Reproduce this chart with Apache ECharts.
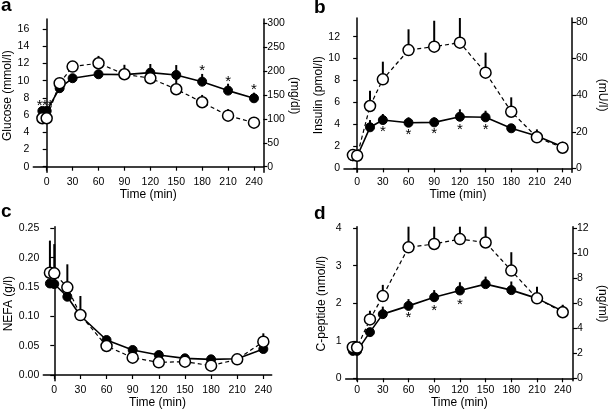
<!DOCTYPE html>
<html>
<head>
<meta charset="utf-8">
<script src="https://cdn.jsdelivr.net/npm/echarts@6/dist/echarts.min.js"></script>
<style>
  html, body { margin: 0; padding: 0; background: #fff; }
  #main { width: 609px; height: 411px; }
</style>
</head>
<body>
<div id="main"></div>
<script>
// sampling times (min)
var times = [-5, 0, 15, 30, 60, 90, 120, 150, 180, 210, 240];
var timeTicks = [0, 30, 60, 90, 120, 150, 180, 210, 240];

// a: glucose (mmol/l)
var gluFilled = [6.48, 6.48, 9.12, 10.28, 10.74, 10.7, 10.93, 10.66, 9.88, 8.84, 7.95];
var gluFilledSd = [0, 0, 0.3, 0.4, 0.5, 0.5, 1.0, 1.15, 0.9, 0.8, 0.65];
var gluOpen = [5.63, 5.63, 9.7, 11.63, 12.02, 10.74, 10.28, 9.0, 7.49, 5.93, 5.12];
var gluOpenSd = [0, 0, 0.3, 0.45, 0.85, 1.1, 0.6, 1.2, 0.85, 0.75, 0.2];
var gluStars = [[-8, 7.4], [-2, 7.4], [4, 7.4], [180, 11.44], [210, 10.16], [240, 9.23]];
var gluTicks = [0, 2, 4, 6, 8, 10, 12, 14, 16];
var gluTicksMg = [0, 50, 100, 150, 200, 250, 300];

// b: insulin (pmol/l)
var insFilled = [1.1, 1.1, 3.74, 4.4, 4.16, 4.19, 4.7, 4.65, 3.65, 2.94, 1.97];
var insFilledSd = [0, 0, 0.66, 0.55, 0.49, 0.46, 0.68, 0.6, 0, 0, 0];
var insOpen = [1.21, 1.15, 5.68, 8.11, 10.78, 11.09, 11.45, 8.72, 5.16, 2.83, 1.88];
var insOpenSd = [0, 0, 1.39, 1.61, 1.89, 2.36, 2.25, 1.82, 1.31, 0.72, 0.25];
var insStars = [[30, 3.64], [60, 3.34], [90, 3.43], [120, 3.8], [150, 3.8]];
var insTicks = [0, 2, 4, 6, 8, 10, 12];
var insTicksMu = [0, 20, 40, 60, 80];

// c: NEFA (g/l)
var nefaFilled = [0.156, 0.155, 0.1334, 0.101, 0.0596, 0.0426, 0.034, 0.0284, 0.0267, 0.0278, 0.0443];
var nefaFilledSd = [0, 0, 0, 0, 0.0069, 0.0044, 0, 0, 0, 0, 0];
var nefaOpen = [0.1743, 0.1733, 0.1494, 0.1022, 0.0494, 0.0295, 0.0216, 0.0227, 0.0159, 0.0267, 0.0568];
var nefaOpenSd = [0.0547, 0.0497, 0.0392, 0.0324, 0, 0, 0, 0, 0, 0, 0.0142];
var nefaTicks = [0.00, 0.05, 0.10, 0.15, 0.20, 0.25];

// d: C-peptide (nmol/l)
var cpFilled = [0.73, 0.73, 1.23, 1.71, 1.93, 2.16, 2.34, 2.51, 2.35, 2.13, 1.79];
var cpFilledSd = [0, 0, 0, 0.2, 0.18, 0.19, 0.22, 0.2, 0.23, 0, 0.15];
var cpOpen = [0.83, 0.82, 1.57, 2.19, 3.49, 3.58, 3.71, 3.62, 2.87, 2.13, 1.76];
var cpOpenSd = [0, 0, 0.23, 0.3, 0.55, 0.46, 0.33, 0.42, 0.49, 0.31, 0.2];
var cpStars = [[60, 1.69], [90, 1.89], [120, 2.04]];
var cpTicks = [0, 1, 2, 3, 4];
var cpTicksNg = [0, 2, 4, 6, 8, 10, 12];

var FONT = '"Liberation Sans", Arial, sans-serif';

function pairs(y) {
  return times.map(function (t, i) { return [t, y[i]]; });
}
function triples(y, sd) {
  var out = [];
  times.forEach(function (t, i) { if (sd[i] > 0) out.push([t, y[i], sd[i]]); });
  return out;
}

function errRender(params, api) {
  var p0 = api.coord([api.value(0), api.value(1)]);
  var p1 = api.coord([api.value(0), api.value(1) + api.value(2)]);
  return {
    type: 'line',
    shape: { x1: p0[0], y1: p0[1], x2: p1[0], y2: p1[1] },
    style: { stroke: '#000', lineWidth: 2 }
  };
}
function starRender(params, api) {
  var p = api.coord([api.value(0), api.value(1)]);
  return {
    type: 'text', x: p[0], y: p[1] + 3,
    style: { text: '*', font: '15px ' + FONT, fill: '#000', align: 'center', verticalAlign: 'middle' }
  };
}

var grids = [], xAxes = [], yAxes = [], series = [];

function axisCommon() {
  return {
    axisLine: { show: true, lineStyle: { color: '#000', width: 1.5 } },
    axisTick: { show: true, length: 4, lineStyle: { color: '#000', width: 1.2 } },
    axisLabel: { color: '#000', fontSize: 10.5, fontFamily: FONT, margin: 4 },
    splitLine: { show: false },
    nameTextStyle: { color: '#000', fontSize: 12, fontFamily: FONT }
  };
}

function addPanel(p) {
  var gi = grids.length;
  grids.push(p.grid);

  var xa = axisCommon();
  xa.type = 'value'; xa.gridIndex = gi; xa.min = p.xMin; xa.max = p.xMax;
  xa.axisTick.customValues = timeTicks; xa.axisLabel.customValues = timeTicks;
  xa.name = 'Time (min)'; xa.nameLocation = 'middle'; xa.nameGap = 14;
  xAxes.push(xa);

  var yl = axisCommon();
  yl.type = 'value'; yl.gridIndex = gi; yl.position = 'left';
  yl.min = p.yMin; yl.max = p.yMax;
  yl.axisTick.customValues = p.ticks; yl.axisLabel.customValues = p.ticks;
  yl.axisLabel.formatter = p.fmt;
  yl.name = p.yName; yl.nameLocation = 'middle'; yl.nameGap = p.nameGap;
  var yi = yAxes.length;
  yAxes.push(yl);

  if (p.right) {
    var yr = axisCommon();
    yr.type = 'value'; yr.gridIndex = gi; yr.position = 'right';
    yr.min = p.yMin * p.right.factor; yr.max = p.yMax * p.right.factor;
    yr.axisTick.customValues = p.right.ticks; yr.axisLabel.customValues = p.right.ticks;
    yr.name = p.right.name; yr.nameLocation = 'middle'; yr.nameGap = p.right.nameGap; yr.nameRotate = -90;
    yAxes.push(yr);
  }

  var ax = { xAxisIndex: gi, yAxisIndex: yi };
  series.push(Object.assign({ type: 'custom', renderItem: errRender, data: triples(p.filled, p.filledSd), z: 2, silent: true }, ax));
  series.push(Object.assign({ type: 'custom', renderItem: errRender, data: triples(p.open, p.openSd), z: 2, silent: true }, ax));
  series.push(Object.assign({
    type: 'line', data: pairs(p.filled), z: 3, symbol: 'circle', symbolSize: 9, showAllSymbol: true,
    lineStyle: { color: '#000', width: 1.6 }, itemStyle: { color: '#000', borderColor: '#000', borderWidth: 1 }
  }, ax));
  series.push(Object.assign({
    type: 'line', data: pairs(p.open), z: 4, symbol: 'circle', symbolSize: 11, showAllSymbol: true,
    lineStyle: { color: '#000', width: 1.2, type: [4, 3] }, itemStyle: { color: '#fff', borderColor: '#000', borderWidth: 1.5 }
  }, ax));
  if (p.stars) {
    series.push(Object.assign({ type: 'custom', renderItem: starRender, data: p.stars, z: 5, silent: true }, ax));
  }
}

addPanel({
  grid: { left: 33.3, top: 19, width: 230, height: 153.3 },
  xMin: -15.5, xMax: 250.8, yMin: -0.65, yMax: 17.16, ticks: gluTicks,
  yName: 'Glucose (mmol/l)', nameGap: 15,
  right: { factor: 18, ticks: gluTicksMg, name: '(mg/dl)', nameGap: 23 },
  filled: gluFilled, filledSd: gluFilledSd, open: gluOpen, openSd: gluOpenSd, stars: gluStars
});
addPanel({
  grid: { left: 344, top: 18, width: 230, height: 154.3 },
  xMin: -15.4, xMax: 251, yMin: -0.36, yMax: 13.7, ticks: insTicks,
  yName: 'Insulin (pmol/l)', nameGap: 16,
  right: { factor: 6, ticks: insTicksMu, name: '(mU/l)', nameGap: 24 },
  filled: insFilled, filledSd: insFilledSd, open: insOpen, openSd: insOpenSd, stars: insStars
});
addPanel({
  grid: { left: 43.3, top: 226.7, width: 228.4, height: 154 },
  xMin: -12.6, xMax: 249.6, yMin: -0.0097, yMax: 0.2527, ticks: nefaTicks,
  fmt: function (v) { return v.toFixed(2); },
  yName: 'NEFA (g/l)', nameGap: 25,
  filled: nefaFilled, filledSd: nefaFilledSd, open: nefaOpen, openSd: nefaOpenSd
});
addPanel({
  grid: { left: 345.7, top: 226.7, width: 231.6, height: 154 },
  xMin: -13.3, xMax: 252, yMin: -0.064, yMax: 4.04, ticks: cpTicks,
  yName: 'C-peptide (nmol/l)', nameGap: 18,
  right: { factor: 3, ticks: cpTicksNg, name: '(ng/ml)', nameGap: 23 },
  filled: cpFilled, filledSd: cpFilledSd, open: cpOpen, openSd: cpOpenSd, stars: cpStars
});

function letter(t, x, y) {
  return { type: 'text', left: x, top: y, style: { text: t, font: 'bold 19px ' + FONT, fill: '#000' } };
}

var chart = echarts.init(document.getElementById('main'), null, { renderer: 'canvas' });
chart.setOption({
  animation: false,
  backgroundColor: '#fff',
  grid: grids,
  xAxis: xAxes,
  yAxis: yAxes,
  series: series,
  graphic: [letter('a', 1, -4), letter('b', 314, -2), letter('c', 1, 202), letter('d', 314, 204)]
});
</script>
</body>
</html>
